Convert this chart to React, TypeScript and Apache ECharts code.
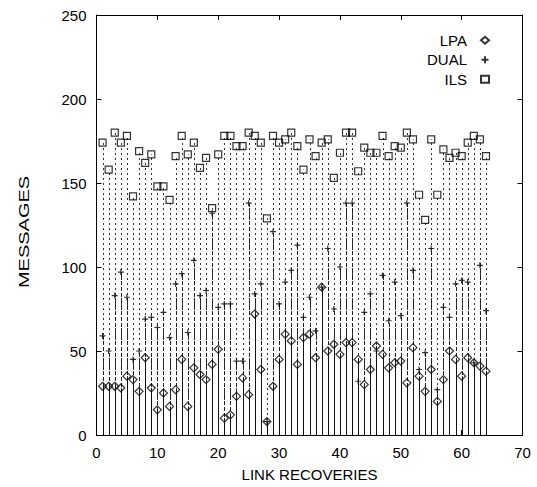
import React, { useEffect, useRef } from 'react';
import * as echarts from 'echarts';

const recoveries = [
  1, 2, 3, 4, 5, 6, 7, 8, 9, 10, 11, 12, 13, 14, 15, 16,
  17, 18, 19, 20, 21, 22, 23, 24, 25, 26, 27, 28, 29, 30, 31, 32,
  33, 34, 35, 36, 37, 38, 39, 40, 41, 42, 43, 44, 45, 46, 47, 48,
  49, 50, 51, 52, 53, 54, 55, 56, 57, 58, 59, 60, 61, 62, 63, 64,
];

const lpa = [
  29, 29, 29, 28, 35, 33, 26, 46, 28, 15, 25, 17, 27, 45, 17, 40,
  36, 33, 42, 51, 10, 12, 23, 34, 24, 72, 39, 8, 29, 45, 60, 56,
  42, 58, 60, 46, 88, 50, 54, 48, 55, 55, 45, 30, 39, 53, 48, 40,
  43, 44, 31, 52, 35, 26, 39, 20, 33, 50, 45, 35, 46, 43, 41, 38,
];

const dual = [
  59, 50, 83, 97, 82, 45, 50, 69, 70, 64, 73, 58, 90, 96, 61, 104,
  83, 86, 132, 76, 78, 78, 44, 44, 138, 84, 90, 8, 121, 78, 91, 98,
  113, 70, 82, 62, 88, 111, 75, 100, 138, 138, 32, 73, 84, 50, 95, 68,
  91, 71, 138, 98, 39, 49, 111, 27, 76, 70, 90, 92, 91, 43, 101, 74,
];

const ils = [
  174, 158, 180, 174, 178, 142, 169, 162, 167, 148, 148, 140, 166, 178, 167, 174,
  159, 165, 135, 167, 178, 178, 172, 172, 180, 178, 174, 129, 178, 174, 176, 180,
  172, 158, 176, 166, 174, 176, 153, 168, 180, 180, 157, 171, 168, 168, 178, 166,
  172, 171, 180, 176, 143, 128, 176, 143, 170, 165, 168, 166, 174, 178, 176, 166,
];

const seriesNames = ['LPA', 'DUAL', 'ILS'];
const xLabelTitle = 'LINK RECOVERIES';
const yLabelTitle = 'MESSAGES';

const FONT = "'Liberation Sans', Arial, sans-serif";

function impulse(name: string, values: number[], dash: number[] | null, z: number, color: string) {
  return {
    name,
    type: 'custom',
    z,
    silent: true,
    data: recoveries.map((x, i) => [x, values[i]]),
    renderItem: (params: any, api: any) => {
      const p0 = api.coord([api.value(0), 0]);
      const p1 = api.coord([api.value(0), api.value(1)]);
      const x = Math.round(p0[0]) + 0.5;
      return {
        type: 'line',
        shape: { x1: x, y1: p0[1], x2: x, y2: p1[1] },
        style: {
          stroke: color,
          lineWidth: 1,
          lineDash: dash || undefined,
        },
      };
    },
  };
}

export default function App() {
  const ref = useRef<HTMLDivElement>(null);

  useEffect(() => {
    if (!ref.current) return;
    const chart = echarts.init(ref.current, undefined, { renderer: 'svg' });

    const axisCommon = {
      type: 'value',
      axisLine: { show: true, onZero: false, lineStyle: { color: '#000', width: 1 } },
      axisTick: { show: true, inside: true, length: 5, lineStyle: { color: '#000', width: 1 } },
      splitLine: { show: false },
    };

    const markerStyle = {
      color: 'rgba(0,0,0,0)',
      borderColor: '#000',
      borderWidth: 1.2,
    };

    chart.setOption({
      animation: false,
      backgroundColor: '#fff',
      grid: { left: 96.5, right: 14.5, top: 15, bottom: 51, containLabel: false },
      legend: {
        data: seriesNames,
        orient: 'vertical',
        right: 42,
        top: 27,
        align: 'right',
        itemWidth: 8,
        itemHeight: 7,
        itemGap: 3,
        selectedMode: false,
        textStyle: {
          fontFamily: FONT,
          fontSize: 15,
          color: '#000',
          lineHeight: 16.5,
          padding: [0, 9, 0, 0],
        },
      },
      xAxis: [
        {
          ...axisCommon,
          position: 'bottom',
          min: 0,
          max: 70,
          interval: 10,
          axisLabel: { color: '#000', fontFamily: FONT, fontSize: 15, margin: 10 },
          name: xLabelTitle,
          nameLocation: 'middle',
          nameGap: 32,
          nameTextStyle: { color: '#000', fontFamily: FONT, fontSize: 15 },
        },
        {
          ...axisCommon,
          position: 'top',
          min: 0,
          max: 70,
          interval: 10,
          axisLabel: { show: false },
        },
      ],
      yAxis: [
        {
          ...axisCommon,
          position: 'left',
          min: 0,
          max: 250,
          interval: 50,
          axisLabel: { color: '#000', fontFamily: FONT, fontSize: 15, margin: 10 },
        },
        {
          ...axisCommon,
          position: 'right',
          min: 0,
          max: 250,
          interval: 50,
          axisLabel: { show: false },
        },
      ],
      graphic: [
        {
          type: 'text',
          x: 24,
          y: 232,
          rotation: Math.PI / 2,
          scaleX: 1,
          scaleY: 0.72,
          style: {
            text: yLabelTitle,
            fontFamily: FONT,
            fontSize: 20,
            fill: '#000',
            textAlign: 'center',
            textVerticalAlign: 'middle',
          },
        },
      ],
      series: [
        impulse('ILS-imp', ils, [2, 3], 1, '#333'),
        impulse('DUAL-imp', dual, [4, 2], 2, '#222'),
        impulse('LPA-imp', lpa, null, 3, '#111'),
        {
          name: 'LPA',
          type: 'scatter',
          z: 5,
          symbol: 'diamond',
          symbolSize: 8,
          itemStyle: markerStyle,
          data: recoveries.map((x, i) => [x, lpa[i]]),
        },
        {
          name: 'DUAL',
          type: 'scatter',
          z: 5,
          symbol: 'path://M5,0L5,10M0,5L10,5',
          symbolSize: 6,
          itemStyle: markerStyle,
          data: recoveries.map((x, i) => [x, dual[i]]),
        },
        {
          name: 'ILS',
          type: 'scatter',
          z: 5,
          symbol: 'rect',
          symbolSize: 7,
          itemStyle: markerStyle,
          data: recoveries.map((x, i) => [x, ils[i]]),
        },
      ],
    });

    return () => chart.dispose();
  }, []);

  return (
    <div
      ref={ref}
      style={{ position: 'fixed', left: 0, top: 0, width: 537, height: 487, background: '#fff' }}
    />
  );
}
